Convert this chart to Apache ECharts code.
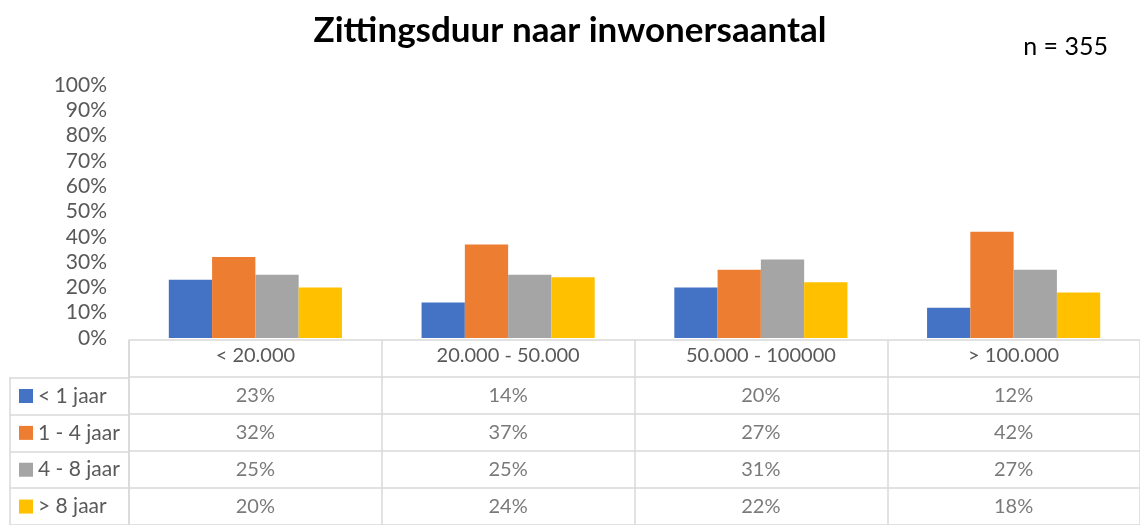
<!DOCTYPE html>
<html><head><meta charset="utf-8">
<script src="https://cdn.jsdelivr.net/npm/echarts@6/dist/echarts.min.js"></script>
<style>html,body{margin:0;padding:0;background:#fff}#c{width:1140px;height:525px}</style>
</head><body><div id="c"></div>
<script>
const categories = ['< 20.000', '20.000 - 50.000', '50.000 - 100000', '> 100.000'];
const seriesNames = ['< 1 jaar', '1 - 4 jaar', '4 - 8 jaar', '> 8 jaar'];
const lessThan1 = [23, 14, 20, 12];
const oneToFour = [32, 37, 27, 42];
const fourToEight = [25, 25, 31, 27];
const moreThan8 = [20, 24, 22, 18];
const colors = ['#4472C4', '#ED7D31', '#A5A5A5', '#FFC000'];
const titleText = 'Zittingsduur naar inwonersaantal';
const nText = 'n = 355';

const allSeries = [lessThan1, oneToFour, fourToEight, moreThan8];
const FONT = 'Lato';
const TXT = '#595959';
const LINE = '#D9D9D9';

const cellData = [];
allSeries.forEach((arr, r) => arr.forEach((v, c) => cellData.push([c, seriesNames[r], v])));

const rich = {};
colors.forEach((col, i) => { rich['sq' + i] = { backgroundColor: col, width: 14, height: 14 }; });
rich.t = { color: TXT, fontSize: 21, fontFamily: FONT, padding: [0, 0, 0, 5] };

const chart = echarts.init(document.getElementById('c'), null, { renderer: 'canvas' });
chart.setOption({
  animation: false,
  title: [
    { text: titleText, left: 'center', top: 8, textStyle: { fontFamily: FONT, fontSize: 35, fontWeight: 'bold', color: '#000' } },
    { text: nText, right: 27, top: 29, textStyle: { fontFamily: FONT, fontSize: 25, fontWeight: 'normal', color: '#000' } }
  ],
  grid: [
    { left: 129, top: 85, width: 1016, height: 253 },
    { left: 129, top: 340, width: 1016, height: 188 },
    { left: 10, top: 377.6, width: 119, height: 150.4 }
  ],
  xAxis: [
    { gridIndex: 0, type: 'category', data: categories, axisLine: { show: false }, axisTick: { show: false },
      axisLabel: { color: TXT, fontSize: 20, fontFamily: FONT, margin: 8, interval: 0 } },
    { gridIndex: 1, type: 'category', data: categories, axisLine: { show: false }, axisTick: { show: false },
      axisLabel: { show: false }, splitLine: { show: true, interval: 0, lineStyle: { color: LINE, width: 1.5 } } },
    { gridIndex: 2, type: 'value', show: false }
  ],
  yAxis: [
    { gridIndex: 0, type: 'value', min: 0, max: 100, interval: 10, axisLine: { show: false }, axisTick: { show: false },
      splitLine: { show: false }, axisLabel: { color: TXT, fontSize: 21, fontFamily: FONT, margin: 22, formatter: v => v + '%' } },
    { gridIndex: 1, type: 'category', inverse: true, data: [''].concat(seriesNames),
      axisLine: { show: true, lineStyle: { color: LINE, width: 1.5 } }, axisTick: { show: false }, axisLabel: { show: false },
      splitLine: { show: true, interval: 0, lineStyle: { color: LINE, width: 1.5 } } },
    { gridIndex: 2, type: 'category', inverse: true, data: seriesNames,
      axisLine: { show: true, lineStyle: { color: LINE, width: 1.5 } }, axisTick: { show: false },
      splitLine: { show: true, interval: 0, lineStyle: { color: LINE, width: 1.5 } },
      axisLabel: { inside: true, align: 'left', margin: 9, interval: 0,
        formatter: (v, i) => '{sq' + i + '|}{t|' + v + '}', rich: rich } }
  ],
  series: allSeries.map((arr, i) => ({
    name: seriesNames[i], type: 'bar', xAxisIndex: 0, yAxisIndex: 0, data: arr,
    barGap: '0%', barCategoryGap: '31.5%', itemStyle: { color: colors[i] }
  })).concat([{
    type: 'scatter', xAxisIndex: 1, yAxisIndex: 1, data: cellData, symbolSize: 1,
    itemStyle: { color: 'rgba(0,0,0,0)' },
    label: { show: true, position: 'inside', formatter: p => p.value[2] + '%', color: TXT, fontSize: 20, fontFamily: FONT }
  }])
});
</script></body></html>
